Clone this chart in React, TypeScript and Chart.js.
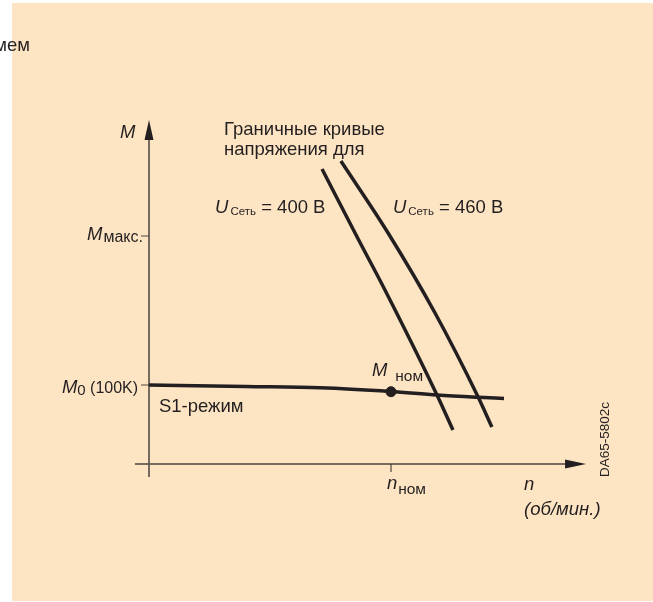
import React, { useEffect, useRef } from "react";
import { Chart, registerables } from "chart.js";

Chart.register(...registerables);

// Relative speed n/n_nom and relative torque M/M0
const N_TORQUE = [0, 0.4, 0.707, 1.0, 1.19, 1.36, 1.467];
const M_TORQUE = [1.0, 0.981, 0.966, 0.918, 0.873, 0.844, 0.829];

const N_U400 = [0.715, 0.86, 0.975, 1.19, 1.256];
const M_U400 = [3.734, 2.873, 2.203, 0.873, 0.43];

const N_U460 = [0.793, 0.988, 1.182, 1.36, 1.417];
const M_U460 = [3.835, 2.924, 1.911, 0.848, 0.468];

const N_NOM = 1.0;
const M_NOM = 0.915;
const M_MAX = 2.886;
const M_0 = 1.0;

const X_AXIS_RANGE = [-0.058, 1.806];
const Y_AXIS_RANGE = [-0.165, 4.354];

const LABEL_TITLE = ["Граничные кривые", "напряжения для"];
const LABEL_U400 = "= 400 В";
const LABEL_U460 = "= 460 В";
const LABEL_S1 = "S1-режим";
const LABEL_DOC = "DA65-5802c";

const FF = '"Liberation Sans", Arial, sans-serif';
const INK = "#231f20";
const AXIS = "rgba(95,85,78,0.85)";
const BG = "#fde4c3";
const FS = 18.5;

type Part = { t: string; font: string; dy?: number; dx?: number };

function rich(ctx: CanvasRenderingContext2D, x: number, y: number, parts: Part[]) {
  let cx = x;
  for (const p of parts) {
    ctx.font = p.font;
    cx += p.dx || 0;
    ctx.fillText(p.t, cx, y + (p.dy || 0));
    cx += ctx.measureText(p.t).width;
  }
}

const overlay = {
  id: "overlay",
  beforeDraw(chart: any) {
    const ctx = chart.ctx as CanvasRenderingContext2D;
    ctx.save();
    ctx.fillStyle = BG;
    ctx.fillRect(12, 3, chart.width - 12, chart.height - 4);
    ctx.restore();
  },
  beforeDatasetsDraw(chart: any) {
    const ctx = chart.ctx as CanvasRenderingContext2D;
    const xs = chart.scales.x;
    const ys = chart.scales.y;
    const px = (v: number) => xs.getPixelForValue(v);
    const py = (v: number) => ys.getPixelForValue(v);
    ctx.save();
    ctx.strokeStyle = AXIS;
    ctx.fillStyle = INK;
    ctx.lineWidth = 2;
    // y axis
    const x0 = px(0);
    const y0 = py(0);
    const yTop = py(Y_AXIS_RANGE[1]);
    ctx.beginPath();
    ctx.moveTo(x0, py(Y_AXIS_RANGE[0]));
    ctx.lineTo(x0, yTop + 18);
    ctx.stroke();
    ctx.beginPath();
    ctx.moveTo(x0, yTop);
    ctx.lineTo(x0 - 4.5, yTop + 20);
    ctx.lineTo(x0 + 4.5, yTop + 20);
    ctx.closePath();
    ctx.fill();
    // x axis
    const xRight = px(X_AXIS_RANGE[1]);
    ctx.beginPath();
    ctx.moveTo(px(X_AXIS_RANGE[0]), y0);
    ctx.lineTo(xRight - 19, y0);
    ctx.stroke();
    ctx.beginPath();
    ctx.moveTo(xRight, y0);
    ctx.lineTo(xRight - 21, y0 - 4.5);
    ctx.lineTo(xRight - 21, y0 + 4.5);
    ctx.closePath();
    ctx.fill();
    // ticks
    ctx.lineWidth = 1.2;
    ctx.strokeStyle = "rgba(60,55,50,0.9)";
    ctx.beginPath();
    ctx.moveTo(x0 - 8, py(M_MAX));
    ctx.lineTo(x0, py(M_MAX));
    ctx.moveTo(x0 - 8, py(M_0));
    ctx.lineTo(x0, py(M_0));
    ctx.moveTo(px(N_NOM), y0);
    ctx.lineTo(px(N_NOM), y0 + 8);
    ctx.stroke();
    ctx.restore();
  },
  afterDatasetsDraw(chart: any) {
    const ctx = chart.ctx as CanvasRenderingContext2D;
    const xs = chart.scales.x;
    const ys = chart.scales.y;
    const px = (v: number) => xs.getPixelForValue(v);
    const py = (v: number) => ys.getPixelForValue(v);
    const reg = (s: number) => `${s}px ${FF}`;
    const ita = (s: number) => `italic ${s}px ${FF}`;
    ctx.save();
    ctx.fillStyle = INK;
    ctx.textBaseline = "alphabetic";

    // cut-off caption at top-left
    ctx.textAlign = "right";
    ctx.font = reg(FS);
    ctx.fillText("мем", px(-0.492), py(5.228));
    ctx.textAlign = "left";

    // y axis name
    rich(ctx, px(-0.12), py(4.127), [{ t: "M", font: ita(FS) }]);
    // M max
    rich(ctx, px(-0.256), py(2.835), [
      { t: "M", font: ita(FS) },
      { t: "макс.", font: reg(16), dy: 2, dx: 1 },
    ]);
    // M0
    rich(ctx, px(-0.36), py(0.9), [
      { t: "M", font: ita(FS) },
      { t: "0", font: reg(15), dy: 2 },
      { t: " (100K)", font: reg(16) },
    ]);

    // title of limit curves
    ctx.font = reg(FS);
    ctx.fillText(LABEL_TITLE[0], px(0.31), py(4.165));
    ctx.fillText(LABEL_TITLE[1], px(0.31), py(3.911));

    // supply voltage labels
    rich(ctx, px(0.273), py(3.177), [
      { t: "U", font: ita(FS) },
      { t: "Сеть", font: reg(11.5), dy: 2, dx: 2 },
      { t: " " + LABEL_U400, font: reg(FS) },
    ]);
    rich(ctx, px(1.008), py(3.177), [
      { t: "U", font: ita(FS) },
      { t: "Сеть", font: reg(11.5), dy: 2, dx: 2 },
      { t: " " + LABEL_U460, font: reg(FS) },
    ]);

    // M nom
    rich(ctx, px(0.921), py(1.114), [
      { t: "M", font: ita(FS) },
      { t: "ном", font: reg(15.5), dy: 5, dx: 8 },
    ]);

    // S1 mode
    ctx.font = reg(FS);
    ctx.fillText(LABEL_S1, px(0.041), py(0.658));

    // n nom
    rich(ctx, px(0.983), py(-0.316), [
      { t: "n", font: ita(FS) },
      { t: "ном", font: reg(15.5), dy: 5, dx: 1 },
    ]);
    // n axis name
    ctx.font = ita(FS);
    ctx.fillText("n", px(1.55), py(-0.329));
    ctx.fillText("(об/мин.)", px(1.55), py(-0.645));

    // document id, rotated
    ctx.save();
    ctx.translate(px(1.9), py(-0.165));
    ctx.rotate(-Math.PI / 2);
    ctx.font = reg(13.5);
    ctx.fillText(LABEL_DOC, 0, 0);
    ctx.restore();

    ctx.restore();
  },
};

export default function App() {
  const ref = useRef<HTMLCanvasElement | null>(null);
  useEffect(() => {
    if (!ref.current) return;
    const toPts = (xs: number[], ys: number[]) => xs.map((x, i) => ({ x, y: ys[i] }));
    const line = (data: any) => ({
      data,
      showLine: true,
      borderColor: INK,
      borderWidth: 3.5,
      pointRadius: 0,
      borderCapStyle: "butt",
      cubicInterpolationMode: "monotone",
    });
    const chart = new Chart(ref.current, {
      type: "scatter",
      data: {
        datasets: [
          line(toPts(N_TORQUE, M_TORQUE)),
          line(toPts(N_U400, M_U400)),
          line(toPts(N_U460, M_U460)),
          {
            data: [{ x: N_NOM, y: M_NOM }],
            pointRadius: 5,
            backgroundColor: INK,
            borderColor: INK,
          },
        ] as any,
      },
      options: {
        animation: false,
        responsive: false,
        maintainAspectRatio: false,
        layout: { padding: 0, autoPadding: false },
        plugins: { legend: { display: false }, tooltip: { enabled: false }, title: { display: false } },
        scales: {
          x: { type: "linear", display: false, min: -149 / 242, max: 504 / 242 },
          y: { type: "linear", display: false, min: -138 / 79, max: 464 / 79 },
        },
      } as any,
      plugins: [overlay as any],
    });
    return () => chart.destroy();
  }, []);
  return (
    <div style={{ position: "absolute", left: 0, top: 0, width: 653, height: 602 }}>
      <canvas ref={ref} width={653} height={602} style={{ display: "block" }} />
    </div>
  );
}
